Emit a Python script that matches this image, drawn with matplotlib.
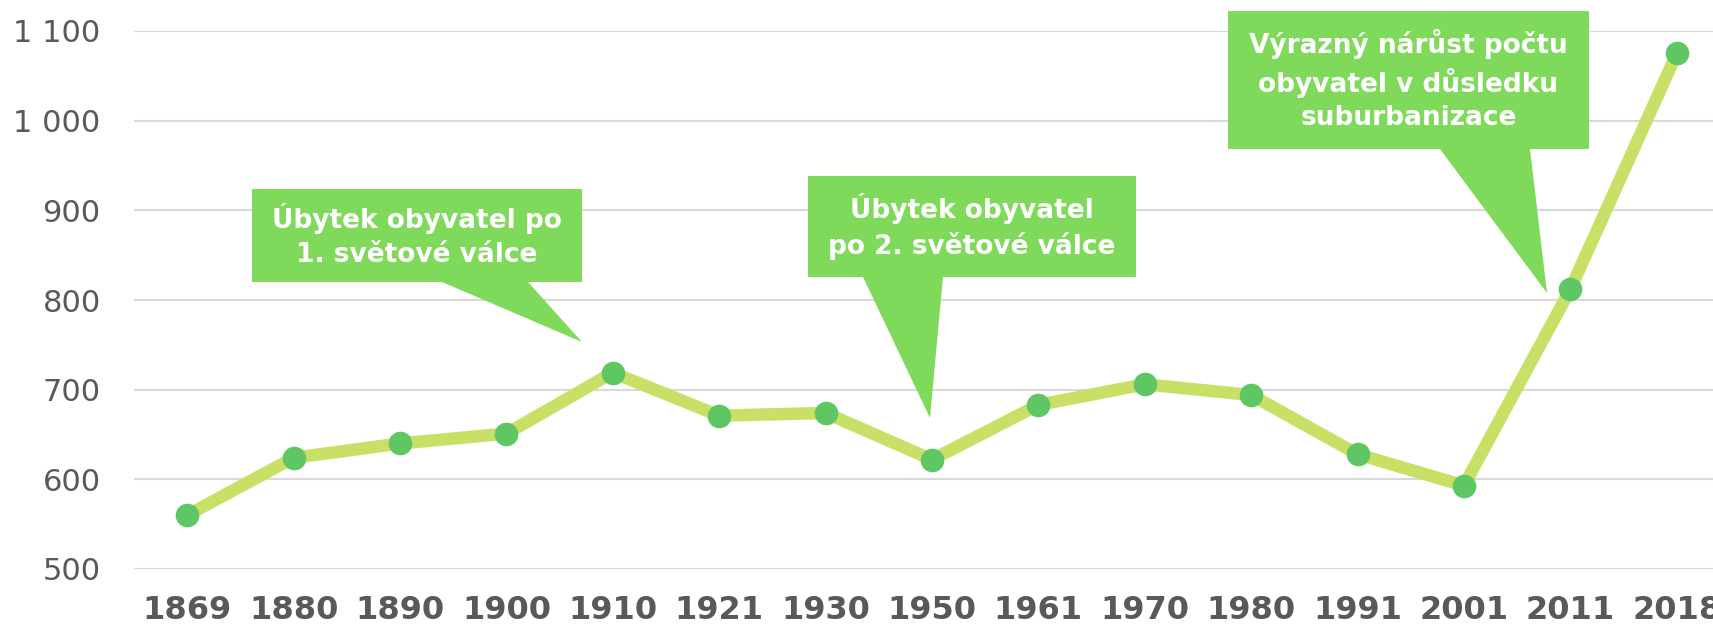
import numpy as np
import matplotlib
matplotlib.use("Agg")
import matplotlib.pyplot as plt
from matplotlib.patches import Polygon
from matplotlib.ticker import FuncFormatter

# Data
years = ["1869", "1880", "1890", "1900", "1910", "1921", "1930", "1950",
         "1961", "1970", "1980", "1991", "2001", "2011", "2018"]
population = [560, 624, 640, 651, 719, 671, 674, 622, 683, 706, 694, 628, 593, 812, 1075]
y_ticks = [500, 600, 700, 800, 900, 1000, 1100]

callout_texts = [
    "Úbytek obyvatel po\n1. světové válce",
    "Úbytek obyvatel\npo 2. světové válce",
    "Výrazný nárůst počtu\nobyvatel v důsledku\nsuburbanizace",
]

fig = plt.figure(figsize=(17.13, 6.26), dpi=100)
W, H = 1713, 626
# axes extends past right edge, like the cropped original
ax = fig.add_axes([134 / W, 1 - 569 / H, 1596 / W, (569 - 31) / H])

x = np.arange(len(years))
ax.plot(x, population, color="#c9e066", linewidth=9, zorder=3,
        solid_joinstyle="round")
ax.plot(x, population, "o", color="#5fc664", markersize=16, zorder=4)

ax.set_xlim(-0.5, len(years) - 0.5)
ax.set_ylim(500, 1100)
ax.set_yticks(y_ticks)
ax.yaxis.set_major_formatter(FuncFormatter(lambda v, p: f"{int(v):,}".replace(",", " ")))
ax.set_xticks(x)
ax.set_xticklabels(years)

ax.grid(axis="y", color="#d9d9d9", linewidth=1.5, zorder=0)
ax.set_axisbelow(True)
for s in ax.spines.values():
    s.set_visible(False)
ax.tick_params(axis="y", length=0, pad=24, labelsize=22, labelcolor="#595959")
ax.tick_params(axis="x", length=0, pad=19, labelsize=23, labelcolor="#595959")
for lab in ax.get_xticklabels():
    lab.set_fontweight("bold")


def px(xp, yp):
    # pixel position in figure -> data coordinates
    return ax.transData.inverted().transform((xp, H - yp))


def callout(box, base, tip, text):
    x0, y0, x1, y1 = box
    pts = [(x0, y0), (x1, y0), (x1, y1), (base[1], y1), tip, (base[0], y1), (x0, y1)]
    poly = Polygon([px(*p) for p in pts], closed=True, facecolor="#7fd95a",
                   edgecolor="none", zorder=5, clip_on=False)
    ax.add_patch(poly)
    cx, cy = px((x0 + x1) / 2, (y0 + y1) / 2)
    ax.text(cx, cy, text, ha="center", va="center", color="white",
            fontweight="bold", fontsize=19, linespacing=1.38, zorder=6)


fig.canvas.draw()
callout((252, 189, 582, 282), (442, 528), (582, 342), callout_texts[0])
callout((808, 176, 1136, 277), (863, 943), (930, 418), callout_texts[1])
callout((1228, 11, 1589, 149), (1440, 1530), (1547, 293), callout_texts[2])

fig.savefig("out.png", dpi=100)
